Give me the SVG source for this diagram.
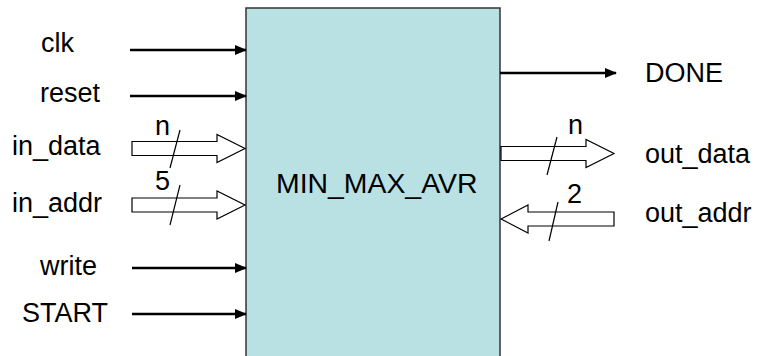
<svg xmlns="http://www.w3.org/2000/svg" width="759" height="356" viewBox="0 0 759 356">
<defs>
<marker id="ah" markerWidth="12" markerHeight="10" refX="11" refY="5" orient="auto" markerUnits="userSpaceOnUse">
<path d="M0,0 L12,5 L0,10 Z" fill="#000"/>
</marker>
<style>
.t{font-family:"Liberation Sans",Arial,sans-serif;font-size:27px;fill:#000}
.w{stroke:#000;stroke-width:2.5;fill:none}
.bus{fill:#fff;stroke:#000;stroke-width:1.2}
.sl{stroke:#000;stroke-width:1.2}
</style>
</defs>
<rect width="759" height="356" fill="#fff"/>
<g id="block">
<rect x="246" y="8" width="254" height="360" fill="#B9E0E3" stroke="#333" stroke-width="1.5"/>
<text class="t" x="276" y="193" style="font-size:28.4px">MIN_MAX_AVR</text>
</g>
<g id="labels">
<text class="t" x="41" y="52">clk</text>
<text class="t" x="40" y="102">reset</text>
<text class="t" x="12" y="155">in_data</text>
<text class="t" x="12" y="212">in_addr</text>
<text class="t" x="40" y="275">write</text>
<text class="t" x="22" y="322">START</text>
<text class="t" x="645" y="82">DONE</text>
<text class="t" x="645" y="163">out_data</text>
<text class="t" x="645" y="222">out_addr</text>
</g>
<g id="connectors">
<line class="w" x1="130" y1="50" x2="246" y2="50" marker-end="url(#ah)"/>
<line class="w" x1="130" y1="96" x2="246" y2="96" marker-end="url(#ah)"/>
<line class="w" x1="132" y1="268" x2="246" y2="268" marker-end="url(#ah)"/>
<line class="w" x1="132" y1="314" x2="246" y2="314" marker-end="url(#ah)"/>
<line class="w" x1="500" y1="73" x2="616" y2="73" marker-end="url(#ah)"/>
<polygon class="bus" points="132,141.5 217,141.5 217,134.5 245,148.5 217,162.5 217,155.5 132,155.5"/>
<line class="sl" x1="170" y1="168" x2="180" y2="130"/>
<text class="t" x="155" y="135">n</text>
<polygon class="bus" points="132,198 217,198 217,191 245,205 217,219 217,212 132,212"/>
<line class="sl" x1="170" y1="225" x2="180" y2="185"/>
<text class="t" x="155" y="190">5</text>
<polygon class="bus" points="501,146.5 586,146.5 586,139.5 614,153.5 586,167.5 586,160.5 501,160.5"/>
<line class="sl" x1="547" y1="175" x2="557" y2="137"/>
<text class="t" x="568" y="134">n</text>
<polygon class="bus" points="614,212 528,212 528,205 501,219 528,233 528,226 614,226"/>
<line class="sl" x1="549" y1="241" x2="558" y2="202"/>
<text class="t" x="567" y="203">2</text>
</g>
</svg>
